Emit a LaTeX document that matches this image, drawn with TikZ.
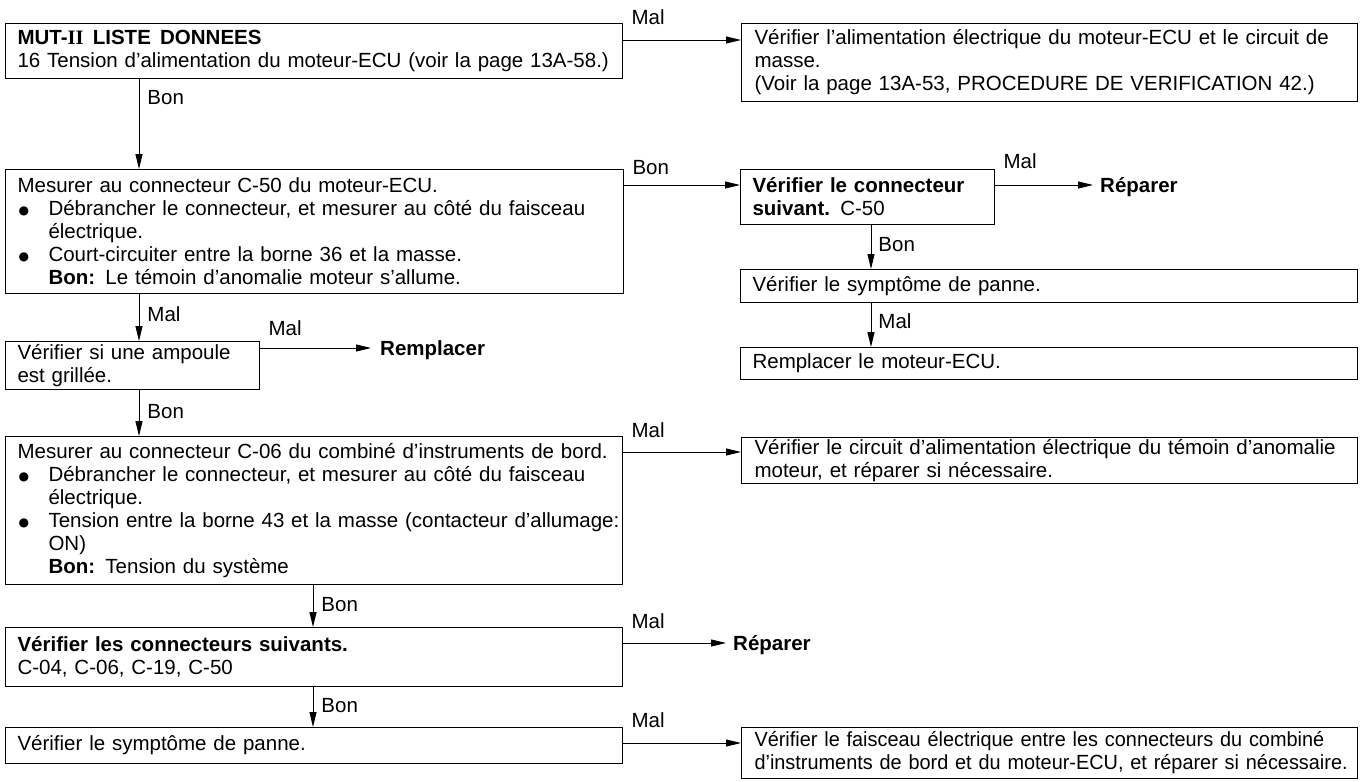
\documentclass[tikz,border=0pt]{standalone}
\usepackage{fontspec}
\setmainfont{Liberation Sans}[WordSpace=1.3]
\newfontfamily\romanII{Liberation Serif}
\newfontfamily\dotfont{DejaVu Sans}
\newfontfamily\narrowfont{Liberation Sans}[FakeStretch=0.97,WordSpace=1.3]
\usetikzlibrary{arrows.meta,calc}

% text size used throughout the chart
\newcommand{\fs}{\fontsize{20.5pt}{23pt}\selectfont}
% a line stretched to the full width of its box
\newcommand{\jl}[1]{\makebox[\linewidth][s]{#1}}
% bullet with hanging indent
\newcommand{\bul}{\makebox[31pt][l]{\hspace{1pt}\raisebox{1pt}{\dotfont\fontsize{12pt}{12pt}\selectfont ●}}}
\newcommand{\bj}[1]{\bul\makebox[\dimexpr\linewidth-31pt\relax][s]{#1}}
\newcommand{\bi}[1]{\hspace*{31pt}#1}

\begin{document}
\begin{tikzpicture}[x=1pt,y=-1pt,
  box/.style={draw=black, line width=1.1pt, anchor=north west, inner xsep=12pt,
              inner ysep=0pt, align=left, font=\fs},
  conn/.style={draw=black, line width=0.9pt, -{Triangle[length=15pt,width=7pt]}},
  lbl/.style={font=\fs, inner sep=0pt},
  outcome/.style={font=\fs\bfseries, inner sep=0pt, anchor=base west}]

\useasboundingbox (0,0) rectangle (1366,782);

% ---------------- boxes ----------------
\node[box, minimum width=617pt, minimum height=55pt, text width=593pt] (b1) at (5,23)
  {\textbf{MUT-{\romanII II}\hspace{0.45em}LISTE\hspace{0.45em}DONNEES}\\
   \jl{16 Tension d’alimentation du moteur-ECU (voir la page 13A-58.)}};

\node[box, minimum width=616pt, minimum height=78pt, text width=590pt] (b2) at (741,23)
  {\jl{Vérifier l’alimentation électrique du moteur-ECU et le circuit de}\\
   masse.\\
   \jl{(Voir la page 13A-53, PROCEDURE DE VERIFICATION 42.)}};

\node[box, minimum width=618pt, minimum height=124pt, text width=594pt] (b3) at (5,169)
  {Mesurer au connecteur C-50 du moteur-ECU.\\
   \bj{Débrancher le connecteur, et mesurer au côté du faisceau}\\
   \bi{électrique.}\\
   \bul Court-circuiter entre la borne 36 et la masse.\\
   \bi{\textbf{Bon:} Le témoin d’anomalie moteur s’allume.}};

\node[box, minimum width=254pt, minimum height=55pt, text width=230pt] (b4) at (740,169)
  {\jl{\textbf{Vérifier le connecteur}}\\
   \textbf{suivant.} C-50};

\node[box, minimum width=617pt, minimum height=33pt, text width=593pt] (b5) at (740,269)
  {Vérifier le symptôme de panne.};

\node[box, minimum width=617pt, minimum height=32pt, text width=593pt] (b6) at (740,347)
  {Remplacer le moteur-ECU.};

\node[box, minimum width=254pt, minimum height=48pt, text width=230pt] (b7) at (5,341)
  {\jl{Vérifier si une ampoule}\\
   est grillée.};

\node[box, minimum width=617pt, minimum height=148pt, text width=593pt] (b8) at (5,436)
  {\mbox{Mesurer au connecteur C-06 du combiné d’instruments de bord.}\\
   \bj{Débrancher le connecteur, et mesurer au côté du faisceau}\\
   \bi{électrique.}\\
   \bj{Tension entre la borne 43 et la masse (contacteur d’allumage:}\\
   \bi{ON)}\\
   \bi{\textbf{Bon:} Tension du système}};

\node[box, minimum width=616pt, minimum height=46pt, text width=590pt] (b9) at (741,437)
  {\jl{Vérifier le circuit d’alimentation électrique du témoin d’anomalie}\\
   moteur, et réparer si nécessaire.};

\node[box, minimum width=617pt, minimum height=59pt, text width=593pt] (b10) at (5,627)
  {\textbf{Vérifier les connecteurs suivants.}\\
   C-04, C-06, C-19, C-50};

\node[box, minimum width=617pt, minimum height=36pt, text width=593pt] (b11) at (5,727)
  {Vérifier le symptôme de panne.};

\node[box, minimum width=616pt, minimum height=51pt, text width=590pt, font=\fs\narrowfont] (b12) at (741,727)
  {\jl{Vérifier le faisceau électrique entre les connecteurs du combiné}\\
   \jl{d’instruments de bord et du moteur-ECU, et réparer si nécessaire.}};

% ---------------- end results ----------------
\node[outcome] (r1) at (1100,192) {Réparer};
\node[outcome] (r2) at (380,355) {Remplacer};
\node[outcome] (r3) at (733,650) {Réparer};

% ---------------- vertical connectors ----------------
\coordinate (v1) at ([xshift=134pt]b1.south west);
\draw[conn] (v1) -- (v1 |- b3.north) node[lbl, pos=0, anchor=west, xshift=8pt, yshift=-18pt] {Bon};

\coordinate (v2) at ([xshift=134pt]b3.south west);
\draw[conn] (v2) -- (v2 |- b7.north) node[lbl, pos=0, anchor=west, xshift=8pt, yshift=-20pt] {Mal};

\coordinate (v3) at ([xshift=134pt]b7.south west);
\draw[conn] (v3) -- (v3 |- b8.north) node[lbl, pos=0, anchor=west, xshift=8pt, yshift=-21pt] {Bon};

\coordinate (v4) at ([xshift=131pt]b4.south west);
\draw[conn] (v4) -- (v4 |- b5.north) node[lbl, pos=0, anchor=west, xshift=7pt, yshift=-19pt] {Bon};

\coordinate (v5) at ([xshift=131pt]b5.south west);
\draw[conn] (v5) -- (v5 |- b6.north) node[lbl, pos=0, anchor=west, xshift=7pt, yshift=-18pt] {Mal};

\coordinate (v6) at ([xshift=308pt]b8.south west);
\draw[conn] (v6) -- (v6 |- b10.north) node[lbl, pos=0, anchor=west, xshift=8pt, yshift=-19pt] {Bon};

\coordinate (v7) at ([xshift=308pt]b10.south west);
\draw[conn] (v7) -- (v7 |- b11.north) node[lbl, pos=0, anchor=west, xshift=8pt, yshift=-18pt] {Bon};

% ---------------- horizontal connectors ----------------
\coordinate (h1) at ([yshift=-17pt]b1.north east);
\draw[conn] (h1) -- (h1 -| b2.west) node[lbl, pos=0, anchor=south west, xshift=8pt, yshift=15pt] {Mal};

\coordinate (h2) at ([yshift=-16pt]b3.north east);
\draw[conn] (h2) -- (h2 -| b4.west) node[lbl, pos=0, anchor=south west, xshift=8pt, yshift=10pt] {Bon};

\coordinate (r1in) at ([shift={(-7pt,7pt)}]r1.base west);
\draw[conn] (r1in -| b4.east) -- (r1in) node[lbl, pos=0, anchor=south west, xshift=8pt, yshift=16pt] {Mal};

\coordinate (r2in) at ([shift={(-9pt,7pt)}]r2.base west);
\draw[conn] (r2in -| b7.east) -- (r2in) node[lbl, pos=0, anchor=south west, xshift=8pt, yshift=12pt] {Mal};

\coordinate (h3) at ([yshift=-16pt]b8.north east);
\draw[conn] (h3) -- (h3 -| b9.west) node[lbl, pos=0, anchor=south west, xshift=8pt, yshift=14pt] {Mal};

\coordinate (r3in) at ([shift={(-7pt,7pt)}]r3.base west);
\draw[conn] (r3in -| b10.east) -- (r3in) node[lbl, pos=0, anchor=south west, xshift=8pt, yshift=14pt] {Mal};

\coordinate (h4) at ([yshift=-16pt]b11.north east);
\draw[conn] (h4) -- (h4 -| b12.west) node[lbl, pos=0, anchor=south west, xshift=8pt, yshift=15pt] {Mal};
\end{tikzpicture}
\end{document}
